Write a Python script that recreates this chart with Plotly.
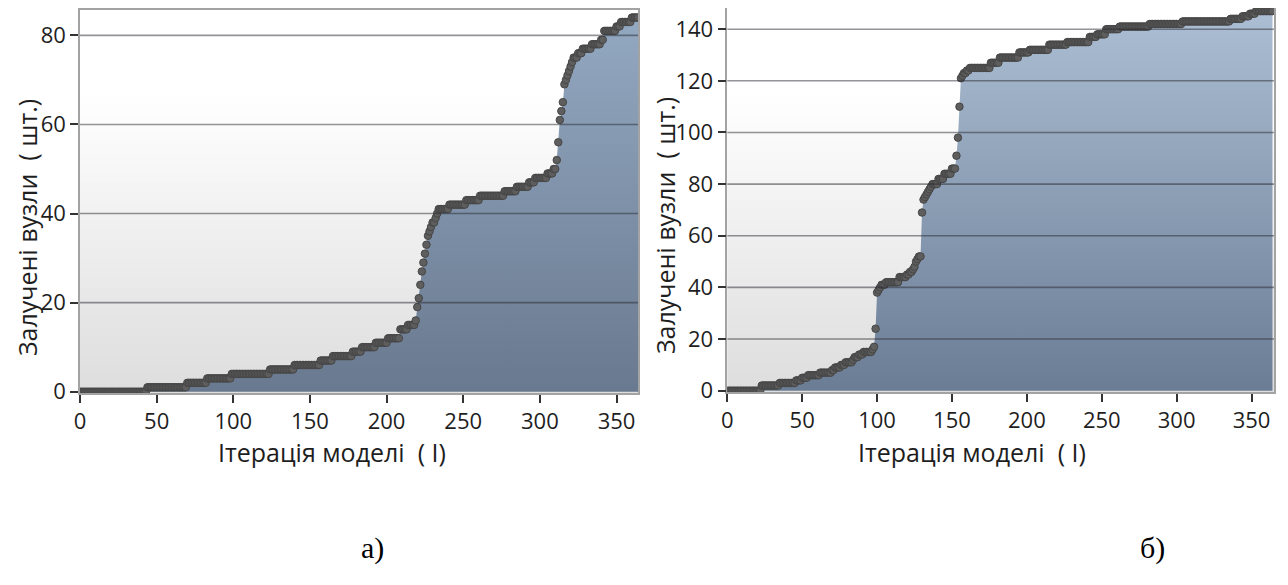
import plotly.graph_objects as go

# ---------------- data ----------------
iterations_a = list(range(0, 365))
nodes_a = [
    0, 0, 0, 0, 0, 0, 0, 0, 0, 0,        # 0-9
    0, 0, 0, 0, 0, 0, 0, 0, 0, 0,        # 10-19
    0, 0, 0, 0, 0, 0, 0, 0, 0, 0,        # 20-29
    0, 0, 0, 0, 0, 0, 0, 0, 0, 0,        # 30-39
    0, 0, 0, 0, 1, 1, 1, 1, 1, 1,        # 40-49
    1, 1, 1, 1, 1, 1, 1, 1, 1, 1,        # 50-59
    1, 1, 1, 1, 1, 1, 1, 1, 1, 1,        # 60-69
    2, 2, 2, 2, 2, 2, 2, 2, 2, 2,        # 70-79
    2, 2, 2, 3, 3, 3, 3, 3, 3, 3,        # 80-89
    3, 3, 3, 3, 3, 3, 3, 3, 3, 4,        # 90-99
    4, 4, 4, 4, 4, 4, 4, 4, 4, 4,        # 100-109
    4, 4, 4, 4, 4, 4, 4, 4, 4, 4,        # 110-119
    4, 4, 4, 4, 5, 5, 5, 5, 5, 5,        # 120-129
    5, 5, 5, 5, 5, 5, 5, 5, 5, 5,        # 130-139
    6, 6, 6, 6, 6, 6, 6, 6, 6, 6,        # 140-149
    6, 6, 6, 6, 6, 6, 6, 7, 7, 7,        # 150-159
    7, 7, 7, 7, 7, 8, 8, 8, 8, 8,        # 160-169
    8, 8, 8, 8, 8, 8, 8, 8, 9, 9,        # 170-179
    9, 9, 9, 9, 10, 10, 10, 10, 10, 10,  # 180-189
    10, 10, 10, 11, 11, 11, 11, 11, 11, 11,  # 190-199
    11, 12, 12, 12, 12, 12, 12, 12, 12, 14,  # 200-209
    14, 14, 14, 14, 15, 15, 15, 15, 15, 16,  # 210-219
    19, 21, 24, 27, 29, 31, 33, 35, 36, 37,  # 220-229
    38, 38, 39, 40, 41, 41, 41, 41, 41, 41,  # 230-239
    41, 42, 42, 42, 42, 42, 42, 42, 42, 42,  # 240-249
    42, 42, 43, 43, 43, 43, 43, 43, 43, 43,  # 250-259
    43, 44, 44, 44, 44, 44, 44, 44, 44, 44,  # 260-269
    44, 44, 44, 44, 44, 44, 44, 45, 45, 45,  # 270-279
    45, 45, 45, 45, 45, 46, 46, 46, 46, 46,  # 280-289
    46, 46, 46, 47, 47, 47, 47, 48, 48, 48,  # 290-299
    48, 48, 48, 48, 48, 49, 49, 49, 49, 50,  # 300-309
    50, 52, 56, 61, 63, 65, 69, 70, 71, 72,  # 310-319
    73, 74, 75, 75, 75, 76, 76, 76, 77, 77,  # 320-329
    77, 77, 77, 77, 78, 78, 78, 78, 78, 78,  # 330-339
    79, 79, 81, 81, 81, 81, 81, 81, 81, 81,  # 340-349
    82, 82, 82, 83, 83, 83, 83, 83, 83, 83,  # 350-359
    84, 84, 84, 84, 84,                      # 360-364
]

iterations_b = list(range(0, 365))
nodes_b = [
    0, 0, 0, 0, 0, 0, 0, 0, 0, 0,            # 0-9
    0, 0, 0, 0, 0, 0, 0, 0, 0, 0,            # 10-19
    0, 0, 0, 2, 2, 2, 2, 2, 2, 2,            # 20-29
    2, 2, 2, 2, 2, 3, 3, 3, 3, 3,            # 30-39
    3, 3, 3, 3, 3, 3, 4, 4, 4, 4,            # 40-49
    5, 5, 5, 5, 6, 6, 6, 6, 6, 6,            # 50-59
    6, 6, 7, 7, 7, 7, 7, 7, 7, 7,            # 60-69
    8, 8, 9, 9, 9, 9, 10, 10, 10, 11,        # 70-79
    11, 11, 11, 11, 12, 13, 13, 13, 14, 14,  # 80-89
    14, 15, 15, 15, 15, 15, 15, 16, 17, 24,  # 90-99
    38, 39, 40, 41, 41, 41, 42, 42, 42, 42,  # 100-109
    42, 42, 42, 42, 42, 44, 44, 44, 44, 44,  # 110-119
    45, 45, 46, 46, 47, 48, 50, 51, 52, 52,  # 120-129
    69, 74, 75, 76, 77, 78, 79, 80, 80, 80,  # 130-139
    80, 82, 82, 82, 82, 84, 84, 84, 84, 84,  # 140-149
    86, 86, 86, 91, 98, 110, 121, 122, 123, 123,  # 150-159
    124, 124, 125, 125, 125, 125, 125, 125, 125, 125,  # 160-169
    125, 125, 125, 125, 125, 125, 127, 127, 127, 127,  # 170-179
    127, 127, 129, 129, 129, 129, 129, 129, 129, 129,  # 180-189
    129, 129, 129, 129, 129, 131, 131, 131, 131, 131,  # 190-199
    131, 131, 132, 132, 132, 132, 132, 132, 132, 132,  # 200-209
    132, 132, 132, 132, 132, 134, 134, 134, 134, 134,  # 210-219
    134, 134, 134, 134, 134, 134, 134, 135, 135, 135,  # 220-229
    135, 135, 135, 135, 135, 135, 135, 135, 135, 135,  # 230-239
    135, 135, 137, 137, 137, 137, 137, 138, 138, 138,  # 240-249
    138, 138, 138, 140, 140, 140, 140, 140, 140, 140,  # 250-259
    140, 140, 141, 141, 141, 141, 141, 141, 141, 141,  # 260-269
    141, 141, 141, 141, 141, 141, 141, 141, 141, 141,  # 270-279
    141, 141, 142, 142, 142, 142, 142, 142, 142, 142,  # 280-289
    142, 142, 142, 142, 142, 142, 142, 142, 142, 142,  # 290-299
    142, 142, 142, 142, 143, 143, 143, 143, 143, 143,  # 300-309
    143, 143, 143, 143, 143, 143, 143, 143, 143, 143,  # 310-319
    143, 143, 143, 143, 143, 143, 143, 143, 143, 143,  # 320-329
    143, 143, 143, 143, 143, 143, 144, 144, 144, 144,  # 330-339
    144, 144, 144, 144, 145, 145, 145, 145, 145, 146,  # 340-349
    146, 146, 146, 147, 147, 147, 147, 147, 147, 147,  # 350-359
    147, 147, 147, 147, 147,                           # 360-364
]

x_ticks = [0, 50, 100, 150, 200, 250, 300, 350]
y_ticks_a = [0, 20, 40, 60, 80]
y_ticks_b = [0, 20, 40, 60, 80, 100, 120, 140]

x_title = "Ітерація моделі\u00a0\u00a0(\u00a0І)"
y_title = "Залучені вузли\u00a0\u00a0(\u00a0шт.)"
panel_labels = ["а)", "б)"]

# ---------------- figure ----------------
W, H = 1288, 585
OFF = 8  # page body margin offset
FONT = "Open Sans"
TXT = "#1e1e1e"


def px(x):
    return max(0.0, (x - OFF) / W)


def py(y):
    return min(1.0, 1 - (y - OFF) / H)


fig = go.Figure()

marker_style = dict(size=7.5, color="#5e5e5e", line=dict(color="#464646", width=1))

fig.add_trace(go.Scatter(
    x=iterations_a, y=nodes_a, mode="lines+markers",
    line=dict(width=0, color="#5c5c5c"),
    fill="tozeroy",
    fillgradient=dict(type="vertical", colorscale=[[0, "#69798f"], [1, "#93a9c1"]]),
    marker=marker_style, xaxis="x", yaxis="y", hoverinfo="x+y",
))
fig.add_trace(go.Scatter(
    x=iterations_b, y=nodes_b, mode="lines+markers",
    line=dict(width=0, color="#5c5c5c"),
    fill="tozeroy",
    fillgradient=dict(type="vertical", colorscale=[[0, "#6b7d95"], [1, "#abbed3"]]),
    marker=marker_style, xaxis="x2", yaxis="y2", hoverinfo="x+y",
))

shapes = []
# background vertical gradient (white at top -> light gray at bottom)
NB = 40
for ax_x, ax_y in (("x", "y"), ("x2", "y2")):
    for i in range(NB):
        t0, t1 = i / NB, (i + 1) / NB
        tc = (t0 + t1) / 2
        g = int(round(221 + 34 * min(1.0, tc / 0.78)))
        shapes.append(dict(type="rect", xref=f"{ax_x} domain", yref=f"{ax_y} domain",
                           x0=0, x1=1, y0=t0, y1=t1 + 0.002, layer="below",
                           line=dict(width=0), fillcolor=f"rgb({g},{g},{g})"))

# gridlines drawn over the filled area
for ax_x, ax_y, ticks in (("x", "y", y_ticks_a), ("x2", "y2", y_ticks_b)):
    for v in ticks[1:]:
        shapes.append(dict(type="line", xref=f"{ax_x} domain", yref=ax_y,
                           x0=0, x1=1, y0=v, y1=v, layer="above",
                           line=dict(color="rgba(40,42,48,0.5)", width=1.6)))

axis_common = dict(
    showline=True, mirror=True, linecolor="#a3a3a3", linewidth=1.5,
    ticks="outside", ticklen=8, tickwidth=1.5, tickcolor="#333333",
    showgrid=False, zeroline=False, automargin=False,
    tickfont=dict(family=FONT, size=22, color=TXT),
)

fig.update_layout(
    width=W, height=H,
    margin=dict(l=0, r=0, t=0, b=0, autoexpand=False),
    paper_bgcolor="white", plot_bgcolor="white",
    showlegend=False,
    xaxis=dict(domain=[px(80), px(638)], range=[0, 364], tickvals=x_ticks,
               anchor="y", **axis_common),
    yaxis=dict(domain=[py(393.3), py(9.5)], range=[-0.35, 85.8],
               tickvals=y_ticks_a, anchor="x", **axis_common),
    xaxis2=dict(domain=[px(727.3), px(1274)], range=[0, 365], tickvals=x_ticks,
                anchor="y2", **axis_common),
    yaxis2=dict(domain=[py(392), py(8)], range=[-0.5, 148.2],
                tickvals=y_ticks_b, anchor="x2", **axis_common),
    shapes=shapes,
)

ann = []
title_font = dict(family=FONT, size=25, color=TXT)
for cx in (332, 972):
    ann.append(dict(text=x_title, x=px(cx), y=py(452), xref="paper", yref="paper",
                    xanchor="center", yanchor="middle", showarrow=False, font=title_font))
ann.append(dict(text=y_title, x=px(8), y=py(228), xref="paper", yref="paper",
                xanchor="left", yanchor="middle", showarrow=False, textangle=-90,
                font=title_font))
ann.append(dict(text=y_title, x=px(665), y=py(225), xref="paper", yref="paper",
                xanchor="center", yanchor="middle", showarrow=False, textangle=-90,
                font=title_font))
for lab, cx in zip(panel_labels, (372, 1152)):
    ann.append(dict(text=lab, x=px(cx), y=py(548), xref="paper", yref="paper",
                    xanchor="center", yanchor="middle", showarrow=False,
                    font=dict(family="Liberation Serif", size=30, color="black")))
fig.update_layout(annotations=ann)

fig.write_html("out.html")
